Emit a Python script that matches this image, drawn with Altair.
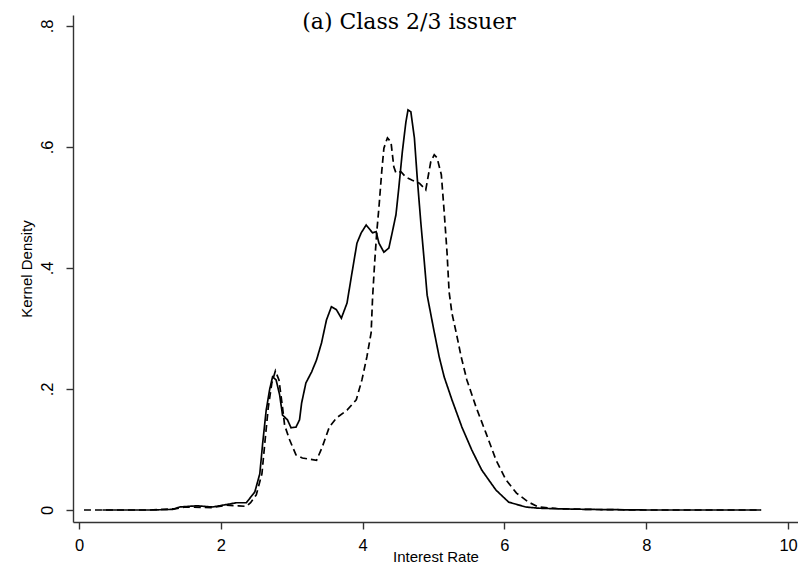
import altair as alt
import pandas as pd

title_text = "(a) Class 2/3 issuer"
x_title = "Interest Rate"
y_title = "Kernel Density"

x_ticks = [0, 2, 4, 6, 8, 10]
y_ticks = [0, 0.2, 0.4, 0.6, 0.8]

solid_x = [0.33, 1.0, 1.32, 1.42, 1.66, 1.88, 2.03, 2.22, 2.36, 2.48, 2.55, 2.59, 2.64, 2.69,
           2.73, 2.78, 2.83, 2.87, 2.94, 2.99, 3.06, 3.11, 3.14, 3.20, 3.28, 3.35, 3.42, 3.49,
           3.56, 3.63, 3.70, 3.78, 3.85, 3.92, 3.98, 4.05, 4.14, 4.19, 4.23, 4.30, 4.37, 4.42,
           4.47, 4.51, 4.56, 4.61, 4.64, 4.68, 4.73, 4.77, 4.82, 4.87, 4.91, 5.00, 5.08, 5.15,
           5.26, 5.40, 5.54, 5.68, 5.88, 6.06, 6.30, 6.48, 6.77, 7.20, 8.00, 9.62]
solid_y = [0.0, 0.0, 0.001, 0.005, 0.007, 0.005, 0.008, 0.012, 0.012, 0.03, 0.06, 0.11, 0.165, 0.20,
           0.22, 0.215, 0.19, 0.157, 0.149, 0.136, 0.137, 0.149, 0.177, 0.21, 0.228, 0.248, 0.276, 0.314,
           0.336, 0.331, 0.317, 0.342, 0.392, 0.441, 0.458, 0.471, 0.458, 0.46, 0.441, 0.426, 0.433, 0.46,
           0.488, 0.532, 0.592, 0.641, 0.661, 0.658, 0.615, 0.549, 0.476, 0.41, 0.355, 0.30, 0.253, 0.22,
           0.182, 0.137, 0.099, 0.066, 0.033, 0.013, 0.005, 0.003, 0.002, 0.001, 0.0, 0.0]

dashed_x = [0.07, 1.0, 1.35, 1.5, 1.88, 2.08, 2.25, 2.36, 2.42, 2.50, 2.58, 2.62, 2.67, 2.72,
            2.77, 2.82, 2.87, 2.90, 2.97, 3.06, 3.15, 3.25, 3.35, 3.43, 3.53, 3.63, 3.78, 3.91,
            3.99, 4.06, 4.12, 4.14, 4.17, 4.20, 4.23, 4.27, 4.30, 4.35, 4.40, 4.44, 4.47, 4.54,
            4.61, 4.70, 4.80, 4.89, 4.91, 4.96, 5.01, 5.05, 5.11, 5.15, 5.19, 5.22, 5.26, 5.32,
            5.39, 5.47, 5.60, 5.74, 5.88, 6.02, 6.17, 6.34, 6.48, 6.77, 7.20, 8.00, 9.62]
dashed_y = [0.0, 0.0, 0.002, 0.005, 0.004, 0.008, 0.007, 0.006, 0.012, 0.025, 0.06, 0.11, 0.17, 0.21,
            0.23, 0.215, 0.17, 0.14, 0.116, 0.091, 0.086, 0.084, 0.082, 0.104, 0.137, 0.152, 0.165, 0.182,
            0.215, 0.253, 0.293, 0.35, 0.41, 0.46, 0.50, 0.56, 0.598, 0.615, 0.608, 0.567, 0.557, 0.559,
            0.55, 0.545, 0.54, 0.529, 0.542, 0.575, 0.587, 0.582, 0.554, 0.493, 0.426, 0.36, 0.325, 0.293,
            0.253, 0.215, 0.17, 0.127, 0.083, 0.05, 0.028, 0.013, 0.005, 0.002, 0.001, 0.0, 0.0]

df = pd.concat([
    pd.DataFrame({"rate": solid_x, "density": solid_y, "series": "solid", "order": range(len(solid_x))}),
    pd.DataFrame({"rate": dashed_x, "density": dashed_y, "series": "dashed", "order": range(len(dashed_x))}),
])

W, H = 725, 507

lines = alt.Chart(df).mark_line(color="black", strokeWidth=1.7).encode(
    x=alt.X("rate:Q", scale=alt.Scale(domain=[-0.0846, 10.14], nice=False, zero=False),
            axis=alt.Axis(title=x_title, values=x_ticks, format="d", grid=False,
                          titleY=39, titleBaseline="alphabetic")),
    y=alt.Y("density:Q", scale=alt.Scale(domain=[-0.0198, 0.818], nice=False, zero=False),
            axis=alt.Axis(title=y_title, values=y_ticks, grid=False, labelAngle=-90,
                          labelAlign="center", labelBaseline="bottom",
                          labelExpr="datum.value == 0 ? '0' : replace(format(datum.value, '.1f'), '0.', '.')")),
    strokeDash=alt.StrokeDash("series:N", scale=alt.Scale(domain=["solid", "dashed"], range=[[1, 0], [7, 4]]),
                              legend=None),
    detail="series:N",
    order="order:Q",
)

title = alt.Chart(pd.DataFrame({"label": [title_text]})).mark_text(
    font="DejaVu Serif", fontSize=22, color="black", baseline="middle", align="center"
).encode(text="label:N", x=alt.value(336), y=alt.value(7))

chart = alt.layer(lines, title).properties(
    width=W, height=H,
    autosize=alt.AutoSizeParams(type="none"),
    padding={"left": 65, "top": 7, "right": 0, "bottom": 43},
    background="white",
).configure_view(stroke=None).configure_axis(
    domainColor="#333333", domainWidth=1.4, tickColor="#333333", tickWidth=1.4, tickSize=7,
    labelFont="Liberation Sans", labelFontSize=16.5, labelColor="black",
    titleFont="Liberation Sans", titleFontSize=15, titleFontWeight="normal", titleColor="black",
).configure_axisX(labelPadding=8).configure_axisY(labelPadding=11, titlePadding=5)

chart.save("out.html", embed_options={"renderer": "svg", "actions": False})
